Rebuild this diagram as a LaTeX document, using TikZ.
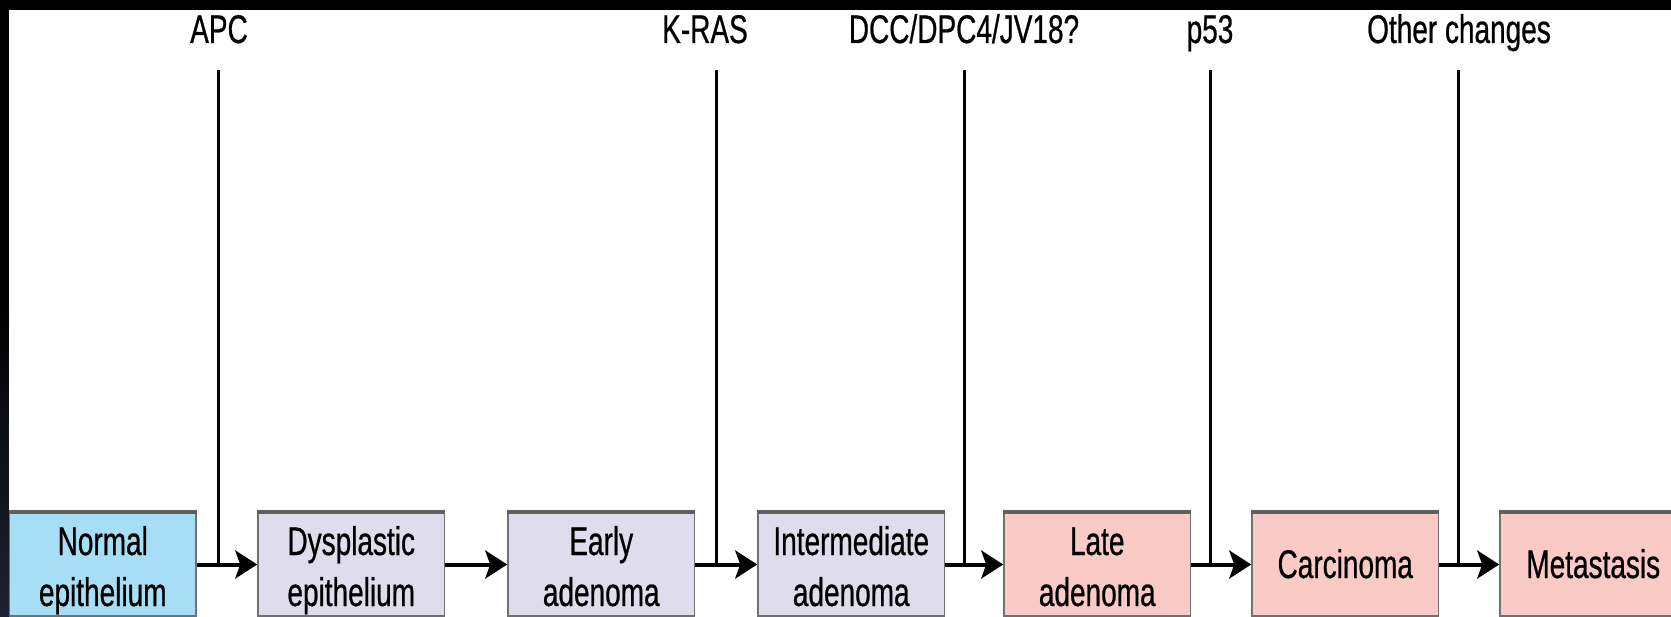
\documentclass[tikz,border=0pt]{standalone}
\usepackage{fontspec}
\setmainfont{Liberation Sans}[FakeStretch=0.7,FakeBold=0.6]
\usetikzlibrary{arrows.meta}
\definecolor{normalblue}{RGB}{168,222,245}
\definecolor{lav}{RGB}{223,220,238}
\definecolor{pinkc}{RGB}{249,202,198}
\definecolor{edgegray}{RGB}{112,112,112}
\definecolor{topgray}{RGB}{95,95,95}
\definecolor{navy}{RGB}{27,34,50}
\newcommand\twolines[2]{\vbox{\baselineskip=51pt\lineskiplimit=-100pt\halign{\hfil##\hfil\cr#1\cr#2\cr}}}
\begin{document}
\begin{tikzpicture}[x=1pt,y=-1pt,
  stage/.style={draw=edgegray,line width=1.5pt,minimum width=186.5pt,minimum height=103pt,inner sep=0pt,anchor=center,font=\fontsize{40}{51}\selectfont},
  one/.style={text height=27pt,text depth=0pt},
  two/.style={text height=83pt,text depth=0pt},
  gene/.style={anchor=base,font=\fontsize{40}{48}\selectfont,inner sep=0pt},
  flow/.style={line width=4pt,-{Stealth[length=22pt,width=28pt,inset=5pt]}},
  hit/.style={line width=3pt},
  topedge/.style={line width=4pt,draw=topgray}]
\useasboundingbox (0,0) rectangle (1671,617);
\clip (0,0) rectangle (1671,617);
\fill[white] (0,0) rectangle (1671,617);
% frame
\fill[black] (0,0) rectangle (1671,10);
\fill[black] (0,0) rectangle (8.5,617);
\shade[top color=black,bottom color=navy] (0,300) rectangle (8.5,617);
% stages
\node[stage,two,fill=normalblue] (n1) at (102.75,564.5) {\twolines{Normal}{epithelium}};
\node[stage,two,fill=lav] (n2) at (351.25,564.5) {\twolines{Dysplastic}{epithelium}};
\node[stage,two,fill=lav] (n3) at (601.25,564.5) {\twolines{Early}{adenoma}};
\node[stage,two,fill=lav] (n4) at (851.25,564.5) {\twolines{Intermediate}{adenoma}};
\node[stage,two,fill=pinkc] (n5) at (1097.25,564.5) {\twolines{Late}{adenoma}};
\node[stage,one,fill=pinkc] (n6) at (1345.25,564.5) {Carcinoma};
\node[stage,one,fill=pinkc] (n7) at (1593.25,564.5) {Metastasis};
\foreach \n in {n1,n2,n3,n4,n5,n6,n7}
  \draw[topedge] (\n.north west) -- (\n.north east);
% gene labels
\node[gene] (g1) at (219,43) {APC};
\node[gene] (g2) at (705,43) {K-RAS};
\node[gene] (g3) at (964,43) {DCC/DPC4/JV18?};
\node[gene] (g4) at (1210,43) {p53};
\node[gene] (g5) at (1459,43) {Other changes};
\coordinate (t1) at (218.5,70);
\coordinate (t2) at (716,70);
\coordinate (t3) at (964,70);
\coordinate (t4) at (1210,70);
\coordinate (t5) at (1458,70);
\draw[hit] (t1) -- (t1 |- n1.east);
\draw[hit] (t2) -- (t2 |- n3.east);
\draw[hit] (t3) -- (t3 |- n4.east);
\draw[hit] (t4) -- (t4 |- n5.east);
\draw[hit] (t5) -- (t5 |- n6.east);
% arrows
\draw[flow] (n1.east) -- (n2.west);
\draw[flow] (n2.east) -- (n3.west);
\draw[flow] (n3.east) -- (n4.west);
\draw[flow] (n4.east) -- (n5.west);
\draw[flow] (n5.east) -- (n6.west);
\draw[flow] (n6.east) -- (n7.west);
\end{tikzpicture}
\end{document}
